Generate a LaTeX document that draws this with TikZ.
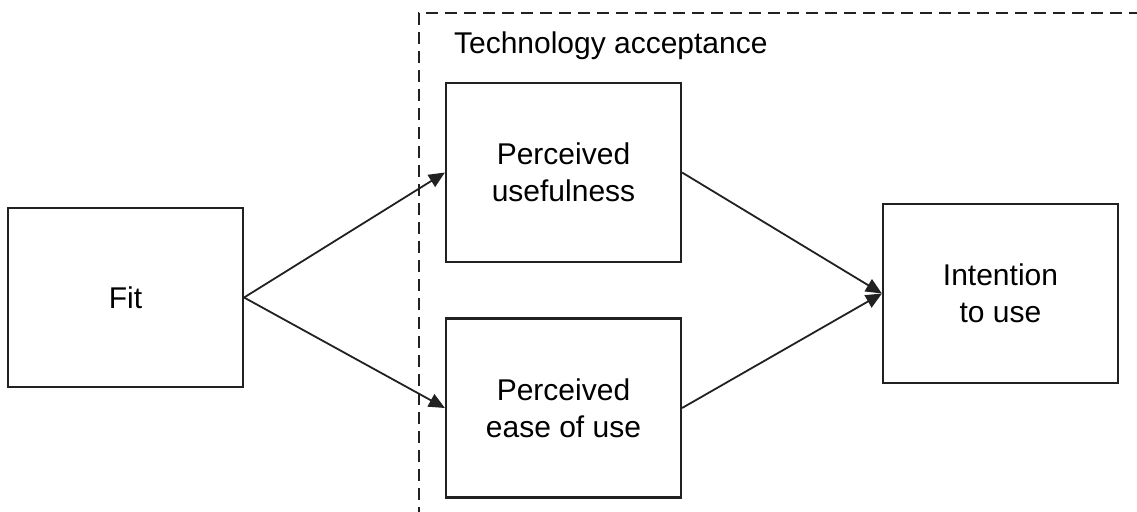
\documentclass[tikz,border=0pt]{standalone}
\usepackage{fontspec}
\setmainfont{Liberation Sans}
\usetikzlibrary{arrows.meta}
\definecolor{LineGray}{rgb}{0.13,0.13,0.13}

\begin{document}
\begin{tikzpicture}[x=0.5pt,y=-0.5pt,
  font=\fontsize{15}{18.5}\selectfont,
  box/.style={draw=LineGray,line width=1.1pt,minimum width=117.5pt,minimum height=89.5pt,align=center,inner sep=0pt},
  link/.style={draw=LineGray,line width=0.9pt,-{Triangle[length=8pt,width=7pt]}}]
\useasboundingbox (0,0) rectangle (1137,511);

% dashed frame, running off the page at right and bottom
\begin{scope}
\clip (0,0) rectangle (1137,511);
\draw[LineGray,line width=1.1pt,dash pattern=on 6pt off 3.5pt] (1160,13) -- (419,13) -- (419,540);
\end{scope}
\node[anchor=base west] (tam) at (447,53) {Technology acceptance};

\node[box] (fit) at (125.5,297.5) {Fit};
\node[box] (pu) at (563.5,172.5) {Perceived\\usefulness};
\node[box] (peou) at (563.5,408) {Perceived\\ease of use};
\node[box] (iu) at (1000.5,293.5) {Intention\\to use};

\draw[link] (fit.east) -- (pu.west);
\draw[link] (fit.east) -- (peou.west);
\draw[link] (pu.east) -- (iu.west);
\draw[link] (peou.east) -- (iu.west);

\end{tikzpicture}
\end{document}
